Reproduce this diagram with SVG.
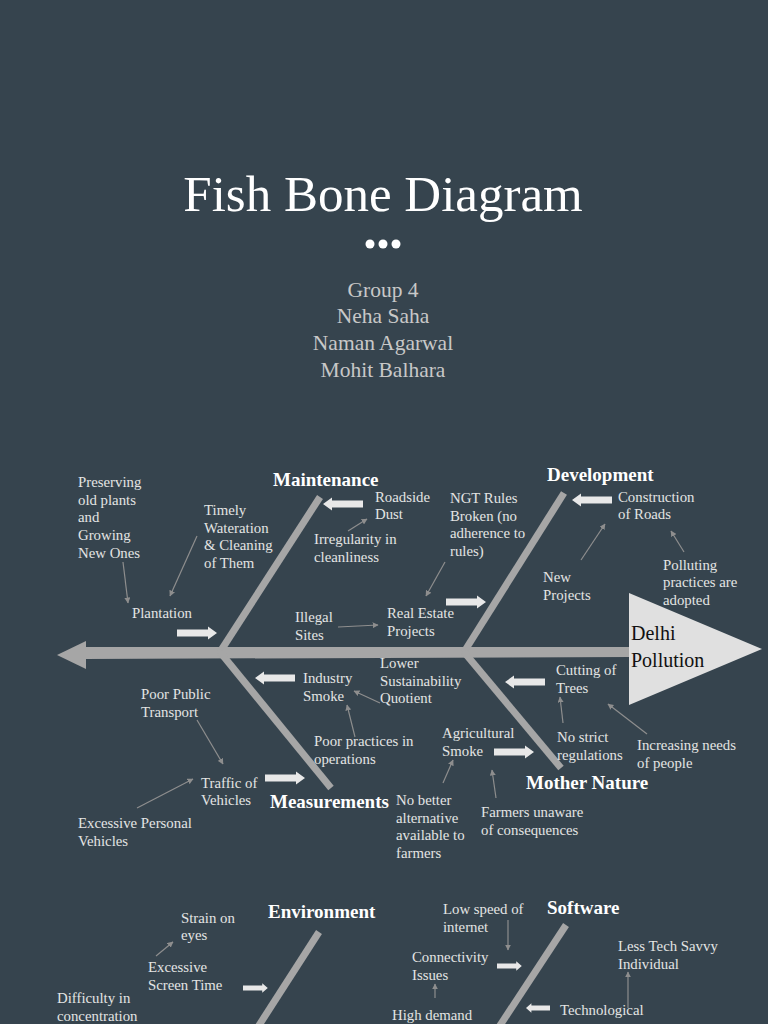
<svg xmlns="http://www.w3.org/2000/svg" width="768" height="1024" viewBox="0 0 768 1024">
<style>
text{font-family:"Liberation Serif","Times New Roman",serif}
.t{fill:#e4e4e4;font-size:14.8px}
.h{fill:#ffffff;font-size:19px;font-weight:bold}
.sub{fill:#c8c8c8;font-size:21.5px;text-anchor:middle}
.bone{stroke:#a6a6a6;stroke-width:7;fill:none}
.thin{stroke:#8e8e8e;stroke-width:1.2;fill:none;marker-end:url(#ah)}
.blk{fill:#e8e8e8}
</style>
<defs>
<marker id="ah" viewBox="0 0 10 10" refX="9" refY="5" markerWidth="6" markerHeight="6" orient="auto" markerUnits="userSpaceOnUse">
<path d="M0,0 L10,5 L0,10 Z" fill="#8e8e8e"/>
</marker>
<path id="ba" d="M0,-3.5 H31 V-6.5 L40,0 L31,6.5 V3.5 H0 Z"/>
</defs>
<rect width="768" height="1024" fill="#36444e"/>

<g id="title">
<text x="383" y="211" fill="#ffffff" font-size="51" text-anchor="middle">Fish Bone Diagram</text>
<circle cx="370" cy="244" r="4.5" fill="#ffffff"/>
<circle cx="383" cy="244" r="4.5" fill="#ffffff"/>
<circle cx="396" cy="244" r="4.5" fill="#ffffff"/>
<text class="sub" x="383" y="297">Group 4</text>
<text class="sub" x="383" y="323">Neha Saha</text>
<text class="sub" x="383" y="350">Naman Agarwal</text>
<text class="sub" x="383" y="377">Mohit Balhara</text>
</g>

<g id="skeleton">
<path d="M85,647 L630,647 L630,657 L85,659 Z" fill="#a6a6a6"/>
<path d="M57,655 L86,641 L86,669 Z" fill="#a6a6a6"/>
<line class="bone" x1="320" y1="497" x2="220" y2="652"/>
<line class="bone" x1="220" y1="652" x2="331" y2="788"/>
<line class="bone" x1="564" y1="493" x2="464" y2="652"/>
<line class="bone" x1="464" y1="652" x2="561" y2="768"/>
<line class="bone" x1="319" y1="932" x2="256" y2="1030"/>
<line class="bone" x1="566" y1="925" x2="497" y2="1030"/>
</g>

<g id="head">
<path d="M629,593 L762,649 L629,705 Z" fill="#e0e0e0"/>
<text x="631" y="640" font-size="20" fill="#111111">Delhi</text>
<text x="631" y="667" font-size="20" fill="#111111">Pollution</text>
</g>

<g id="maintenance">
<text class="h" x="273" y="486">Maintenance</text>
<text class="t" x="78" y="487">Preserving</text>
<text class="t" x="78" y="505">old plants</text>
<text class="t" x="78" y="522">and</text>
<text class="t" x="78" y="540">Growing</text>
<text class="t" x="78" y="558">New Ones</text>
<text class="t" x="204" y="515">Timely</text>
<text class="t" x="204" y="533">Wateration</text>
<text class="t" x="204" y="550">&amp; Cleaning</text>
<text class="t" x="204" y="568">of Them</text>
<text class="t" x="132" y="618">Plantation</text>
<text class="t" x="375" y="502">Roadside</text>
<text class="t" x="375" y="519">Dust</text>
<text class="t" x="314" y="544">Irregularity in</text>
<text class="t" x="314" y="562">cleanliness</text>
</g>

<g id="development">
<text class="h" x="547" y="481">Development</text>
<text class="t" x="450" y="503">NGT Rules</text>
<text class="t" x="450" y="521">Broken (no</text>
<text class="t" x="450" y="538">adherence to</text>
<text class="t" x="450" y="556">rules)</text>
<text class="t" x="295" y="622">Illegal</text>
<text class="t" x="295" y="640">Sites</text>
<text class="t" x="387" y="618">Real Estate</text>
<text class="t" x="387" y="636">Projects</text>
<text class="t" x="618" y="502">Construction</text>
<text class="t" x="618" y="519">of Roads</text>
<text class="t" x="543" y="582">New</text>
<text class="t" x="543" y="600">Projects</text>
<text class="t" x="663" y="570">Polluting</text>
<text class="t" x="663" y="587">practices are</text>
<text class="t" x="663" y="605">adopted</text>
</g>

<g id="measurements">
<text class="h" x="270" y="808">Measurements</text>
<text class="t" x="303" y="683">Industry</text>
<text class="t" x="303" y="701">Smoke</text>
<text class="t" x="380" y="668">Lower</text>
<text class="t" x="380" y="686">Sustainability</text>
<text class="t" x="380" y="703">Quotient</text>
<text class="t" x="314" y="746">Poor practices in</text>
<text class="t" x="314" y="764">operations</text>
<text class="t" x="141" y="699">Poor Public</text>
<text class="t" x="141" y="717">Transport</text>
<text class="t" x="201" y="788">Traffic of</text>
<text class="t" x="201" y="805">Vehicles</text>
<text class="t" x="78" y="828">Excessive Personal</text>
<text class="t" x="78" y="846">Vehicles</text>
</g>

<g id="mother-nature">
<text class="h" x="526" y="789">Mother Nature</text>
<text class="t" x="556" y="675">Cutting of</text>
<text class="t" x="556" y="693">Trees</text>
<text class="t" x="442" y="738">Agricultural</text>
<text class="t" x="442" y="756">Smoke</text>
<text class="t" x="557" y="742">No strict</text>
<text class="t" x="557" y="760">regulations</text>
<text class="t" x="637" y="750">Increasing needs</text>
<text class="t" x="637" y="768">of people</text>
<text class="t" x="396" y="805">No better</text>
<text class="t" x="396" y="823">alternative</text>
<text class="t" x="396" y="840">available to</text>
<text class="t" x="396" y="858">farmers</text>
<text class="t" x="481" y="817">Farmers unaware</text>
<text class="t" x="481" y="835">of consequences</text>
</g>

<g id="environment">
<text class="h" x="268" y="918">Environment</text>
<text class="t" x="181" y="923">Strain on</text>
<text class="t" x="181" y="940">eyes</text>
<text class="t" x="148" y="972">Excessive</text>
<text class="t" x="148" y="990">Screen Time</text>
<text class="t" x="57" y="1003">Difficulty in</text>
<text class="t" x="57" y="1021">concentration</text>
</g>

<g id="software">
<text class="h" x="547" y="914">Software</text>
<text class="t" x="443" y="914">Low speed of</text>
<text class="t" x="443" y="932">internet</text>
<text class="t" x="412" y="962">Connectivity</text>
<text class="t" x="412" y="980">Issues</text>
<text class="t" x="392" y="1020">High demand</text>
<text class="t" x="618" y="951">Less Tech Savvy</text>
<text class="t" x="618" y="969">Individual</text>
<text class="t" x="560" y="1015">Technological</text>
</g>

<g id="connectors">
<use href="#ba" class="blk" transform="translate(177,633)"/>
<use href="#ba" class="blk" transform="translate(363,504) scale(-1,1)"/>
<use href="#ba" class="blk" transform="translate(446,602)"/>
<use href="#ba" class="blk" transform="translate(612,500) scale(-1,1)"/>
<use href="#ba" class="blk" transform="translate(295,678) scale(-1,1)"/>
<use href="#ba" class="blk" transform="translate(265,778)"/>
<use href="#ba" class="blk" transform="translate(545,682) scale(-1,1)"/>
<use href="#ba" class="blk" transform="translate(494,752)"/>
<use href="#ba" class="blk" transform="translate(243,988) scale(0.62,0.72)"/>
<use href="#ba" class="blk" transform="translate(497,966) scale(0.62,0.72)"/>
<use href="#ba" class="blk" transform="translate(550,1008) scale(-0.6,0.72)"/>
<line class="thin" x1="123" y1="562" x2="128" y2="603"/>
<line class="thin" x1="197" y1="536" x2="170" y2="596"/>
<line class="thin" x1="348" y1="531" x2="367" y2="519"/>
<line class="thin" x1="338" y1="627" x2="378" y2="625"/>
<line class="thin" x1="445" y1="562" x2="426" y2="596"/>
<line class="thin" x1="581" y1="560" x2="605" y2="524"/>
<line class="thin" x1="684" y1="552" x2="671" y2="531"/>
<line class="thin" x1="380" y1="703" x2="354" y2="691"/>
<line class="thin" x1="355" y1="737" x2="347" y2="705"/>
<line class="thin" x1="197" y1="720" x2="223" y2="764"/>
<line class="thin" x1="137" y1="808" x2="193" y2="779"/>
<line class="thin" x1="563" y1="723" x2="560" y2="697"/>
<line class="thin" x1="647" y1="734" x2="608" y2="704"/>
<line class="thin" x1="443" y1="783" x2="453" y2="760"/>
<line class="thin" x1="496" y1="798" x2="492" y2="770"/>
<line class="thin" x1="156" y1="956" x2="173" y2="942"/>
<line class="thin" x1="508" y1="920" x2="508" y2="950"/>
<line class="thin" x1="435" y1="998" x2="435" y2="984"/>
<line class="thin" x1="628" y1="1008" x2="628" y2="972"/>
</g>
</svg>
